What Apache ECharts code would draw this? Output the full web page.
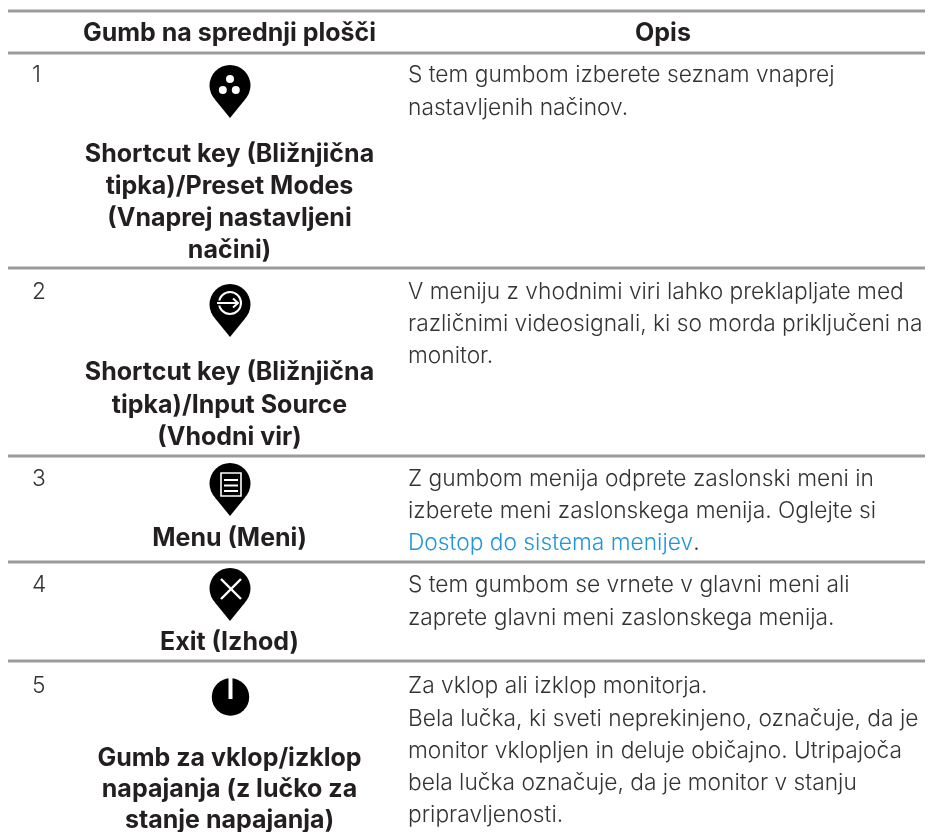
<!DOCTYPE html>
<html><head><meta charset="utf-8">
<style>html,body{margin:0;padding:0;background:#fff}#c{width:931px;height:832px}</style>
<script src="https://cdn.jsdelivr.net/npm/echarts@6/dist/echarts.min.js"></script>
</head><body><div id="c"></div>
<script>
const columnHeaders = ['Gumb na sprednji plošči', 'Opis'];
const rowNumbers = ['1', '2', '3', '4', '5'];
const buttonLabels = [
  ['Shortcut key (Bližnjična', 'tipka)/Preset Modes', '(Vnaprej nastavljeni', 'načini)'],
  ['Shortcut key (Bližnjična', 'tipka)/Input Source', '(Vhodni vir)'],
  ['Menu (Meni)'],
  ['Exit (Izhod)'],
  ['Gumb za vklop/izklop', 'napajanja (z lučko za', 'stanje napajanja)']
];
const descriptions = [
  ['S tem gumbom izberete seznam vnaprej', 'nastavljenih načinov.'],
  ['V meniju z vhodnimi viri lahko preklapljate med', 'različnimi videosignali, ki so morda priključeni na', 'monitor.'],
  ['Z gumbom menija odprete zaslonski meni in', 'izberete meni zaslonskega menija. Oglejte si', 'Dostop do sistema menijev.'],
  ['S tem gumbom se vrnete v glavni meni ali', 'zaprete glavni meni zaslonskega menija.'],
  ['Za vklop ali izklop monitorja.', 'Bela lučka, ki sveti neprekinjeno, označuje, da je', 'monitor vklopljen in deluje običajno. Utripajoča', 'bela lučka označuje, da je monitor v stanju', 'pripravljenosti.']
];
const linkLine = 'Dostop do sistema menijev.';

// layout
const ruleYs = [11, 53, 268, 456, 562, 661];
const ruleX = [8, 925];
const numY = [75, 292, 479, 585, 686];
const labelY = [[154,186,218,250],[372,405,437],[538],[642],[758,789,820]];
const descY = [[75,108],[292,324,356],[479,511,543],[585,618],[686,719,751,783,815]];
const pinTop = [65, 284, 463, 568];
const FONT = 'Inter, "Open Sans", sans-serif';
const BODY_FONT = '300 22.75px ' + FONT;
const BOLD_FONT = '700 25px ' + FONT;
const INK = '#333335', LINK = '#1f96d8';
const g = [];
const txt = (s, x, y, o) => g.push({type:'text', silent:true, style:Object.assign({text:s, x, y, fill:INK, font:BODY_FONT, textAlign:'left', textVerticalAlign:'middle'}, o)});
ruleYs.forEach(y => g.push({type:'rect', shape:{x:ruleX[0], y:y-1.5, width:ruleX[1]-ruleX[0], height:3}, style:{fill:'#9b9b9d'}, silent:true}));
const bold = {fill:'#231f20', font:BOLD_FONT, textAlign:'center'};
txt(columnHeaders[0], 229.5, 33, bold);
txt(columnHeaders[1], 663, 33, bold);
rowNumbers.forEach((n,i)=>txt(n, 32, numY[i], {}));
buttonLabels.forEach((ls,i)=>ls.forEach((l,j)=>txt(l, 229.5, labelY[i][j], bold)));
descriptions.forEach((ls,i)=>ls.forEach((l,j)=>{
  if (l === linkLine) {
    const head = l.slice(0, -1), tail = l.slice(-1);
    txt('{a|'+head+'}{b|'+tail+'}', 408, descY[i][j], {rich:{a:{fill:LINK, font:BODY_FONT}, b:{fill:INK, font:BODY_FONT}}});
  } else txt(l, 408, descY[i][j], {});
}));

pinTop.forEach(t => {
  const r = 20.5, cx = 230, cy = t + r;
  g.push({type:'circle', silent:true, shape:{cx,cy,r}, style:{fill:'#000'}});
  g.push({type:'polygon', silent:true, shape:{points:[[cx-15,cy+14],[cx+15,cy+14],[cx,t+53]]}, style:{fill:'#000'}});
});
const W = {fill:'#fff'};
[[230,79],[222.8,90],[235.8,90]].forEach(c=>g.push({type:'circle', silent:true, shape:{cx:c[0],cy:c[1],r:4}, style:W}));
// input source icon
const S = {stroke:'#fff', lineWidth:2, fill:null};
g.push({type:'circle', silent:true, shape:{cx:230,cy:303,r:11}, style:S});
g.push({type:'rect', silent:true, shape:{x:217,y:300.5,width:8,height:5}, style:{fill:'#000'}});
g.push({type:'line', silent:true, shape:{x1:217,y1:303,x2:238,y2:303}, style:{stroke:'#fff',lineWidth:2}});
g.push({type:'polyline', silent:true, shape:{points:[[233,298.5],[238,303],[233,307.5]]}, style:{stroke:'#fff',lineWidth:2,fill:null}});
// menu icon
g.push({type:'rect', silent:true, shape:{x:221,y:473,width:20,height:23}, style:{stroke:'#fff',lineWidth:1.6,fill:null}});
[480,485.5,491].forEach(y=>g.push({type:'line', silent:true, shape:{x1:224,y1:y,x2:238,y2:y}, style:{stroke:'#fff',lineWidth:2}}));
// exit icon
g.push({type:'line', silent:true, shape:{x1:221,y1:579,x2:241,y2:599}, style:{stroke:'#fff',lineWidth:2.4}});
g.push({type:'line', silent:true, shape:{x1:241,y1:579,x2:221,y2:599}, style:{stroke:'#fff',lineWidth:2.4}});
// power icon
g.push({type:'circle', silent:true, shape:{cx:230.5,cy:697,r:18.7}, style:{fill:'#000'}});
g.push({type:'rect', silent:true, shape:{x:228.5,y:678,width:4,height:21}, style:W});

echarts.init(document.getElementById('c'),null,{renderer:'canvas'}).setOption({animation:false, backgroundColor:'#fff', graphic:{elements:g}});
</script></body></html>
